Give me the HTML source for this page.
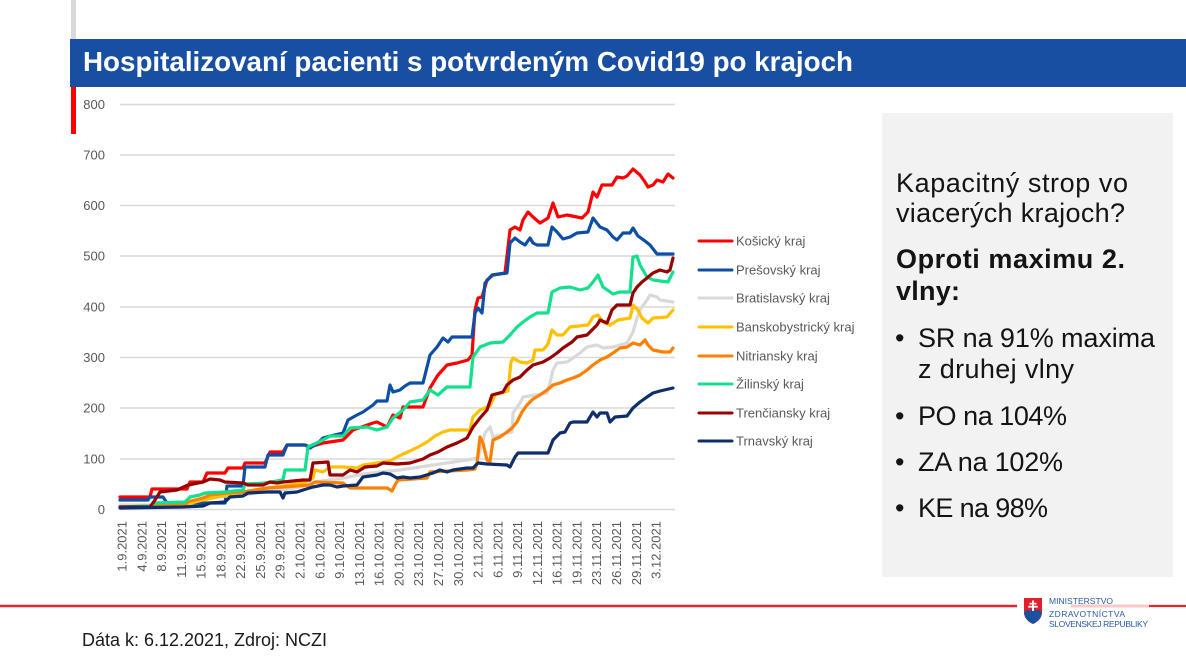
<!DOCTYPE html>
<html><head><meta charset="utf-8"><style>
html,body{margin:0;padding:0;background:#fff;}
svg{display:block;}
</style></head><body>
<svg width="1186" height="661" viewBox="0 0 1186 661" xmlns="http://www.w3.org/2000/svg" font-family="'Liberation Sans', sans-serif">
<rect width="1186" height="661" fill="#fff"/>
<rect x="71" y="0" width="5" height="39" fill="#d9d9d9"/>
<rect x="70" y="39" width="1116" height="48" fill="#184fa3"/>
<text x="83" y="71" font-size="28" font-weight="bold" fill="#fff" textLength="770" lengthAdjust="spacingAndGlyphs">Hospitalizovaní pacienti s potvrdeným Covid19 po krajoch</text>
<rect x="71" y="87" width="5" height="47" fill="#ff0000"/>

<g stroke="#d9d9d9" stroke-width="1.5">
<line x1="120" y1="104.5" x2="675" y2="104.5"/>
<line x1="120" y1="155" x2="675" y2="155"/>
<line x1="120" y1="205.5" x2="675" y2="205.5"/>
<line x1="120" y1="256" x2="675" y2="256"/>
<line x1="120" y1="307" x2="675" y2="307"/>
<line x1="120" y1="357.5" x2="675" y2="357.5"/>
<line x1="120" y1="408" x2="675" y2="408"/>
<line x1="120" y1="459" x2="675" y2="459"/>
<line x1="120" y1="509.5" x2="675" y2="509.5"/>
</g>
<g font-size="13" fill="#595959" text-anchor="end">
<text x="105" y="109">800</text>
<text x="105" y="159.5">700</text>
<text x="105" y="210">600</text>
<text x="105" y="260.5">500</text>
<text x="105" y="311.5">400</text>
<text x="105" y="362">300</text>
<text x="105" y="412.5">200</text>
<text x="105" y="463.5">100</text>
<text x="105" y="514">0</text>
</g>

<g font-size="13" fill="#595959" text-anchor="end">
<text transform="translate(126.5,521) rotate(-90)">1.9.2021</text>
<text transform="translate(146.3,521) rotate(-90)">4.9.2021</text>
<text transform="translate(166.1,521) rotate(-90)">8.9.2021</text>
<text transform="translate(185.8,521) rotate(-90)">11.9.2021</text>
<text transform="translate(205.6,521) rotate(-90)">15.9.2021</text>
<text transform="translate(225.4,521) rotate(-90)">18.9.2021</text>
<text transform="translate(245.2,521) rotate(-90)">22.9.2021</text>
<text transform="translate(265,521) rotate(-90)">25.9.2021</text>
<text transform="translate(284.7,521) rotate(-90)">29.9.2021</text>
<text transform="translate(304.5,521) rotate(-90)">2.10.2021</text>
<text transform="translate(324.3,521) rotate(-90)">6.10.2021</text>
<text transform="translate(344.1,521) rotate(-90)">9.10.2021</text>
<text transform="translate(363.9,521) rotate(-90)">13.10.2021</text>
<text transform="translate(383.6,521) rotate(-90)">16.10.2021</text>
<text transform="translate(403.4,521) rotate(-90)">20.10.2021</text>
<text transform="translate(423.2,521) rotate(-90)">23.10.2021</text>
<text transform="translate(443,521) rotate(-90)">27.10.2021</text>
<text transform="translate(462.8,521) rotate(-90)">30.10.2021</text>
<text transform="translate(482.5,521) rotate(-90)">2.11.2021</text>
<text transform="translate(502.3,521) rotate(-90)">6.11.2021</text>
<text transform="translate(522.1,521) rotate(-90)">9.11.2021</text>
<text transform="translate(541.9,521) rotate(-90)">12.11.2021</text>
<text transform="translate(561.7,521) rotate(-90)">16.11.2021</text>
<text transform="translate(581.4,521) rotate(-90)">19.11.2021</text>
<text transform="translate(601.2,521) rotate(-90)">23.11.2021</text>
<text transform="translate(621,521) rotate(-90)">26.11.2021</text>
<text transform="translate(640.8,521) rotate(-90)">29.11.2021</text>
<text transform="translate(660.6,521) rotate(-90)">3.12.2021</text>
</g>

<g fill="none" stroke-width="3.2" stroke-linejoin="round" stroke-linecap="round">
<polyline stroke="#ff0000" points="120,497 150,497 152,489 187,489 190,482 203,482 207,473 225,473 228,468 243,468 245,463 265,463 270,452 283,452 287,445 305,445 310,447 323,443 343,440 353,430 373,423 377,422 387,427 393,415 400,418 403,407 423,407 430,388 438,375 447,365 457,363 468,360 472,355 475,310 478,298 482,297 487,280 493,275 505,273 510,230 515,227 520,230 523,220 528,212 533,217 540,223 545,220 548,218 553,203 558,217 567,215 577,217 582,218 588,212 593,192 597,197 602,185 612,185 617,177 623,178 627,176 633,169 640,175 645,182 648,187 653,185 657,180 663,182 668,174 673,178"/>
<polyline stroke="#0d4ea6" points="120,500 148,500 150,497 163,497 167,503 225,503 227,486 243,486 245,467 265,467 268,455 283,455 287,445 305,445 310,448 318,443 323,438 330,436 343,433 348,420 357,415 363,412 373,405 377,401 387,401 390,385 393,392 400,390 405,386 410,383 423,383 430,355 437,347 443,338 448,342 452,337 472,337 475,313 478,308 482,313 485,283 492,275 507,273 510,243 515,238 520,242 525,245 530,238 533,243 537,245 548,245 552,227 557,232 563,239 570,237 577,233 588,232 593,218 600,227 607,230 613,237 617,240 623,233 630,233 633,228 638,236 645,241 650,245 657,254 673,254"/>
<polyline stroke="#d9d9d9" points="120,505 150,505 187,503 210,497 245,495 267,491 283,490 300,487 315,482 343,478 363,474 380,472 400,470 433,465 467,460 478,458 485,433 490,427 493,437 500,435 512,432 513,413 520,403 523,397 547,393 550,383 553,370 557,363 567,362 573,358 580,353 587,347 597,345 603,348 613,347 627,343 633,332 637,318 640,310 647,300 650,295 657,297 660,300 673,302"/>
<polyline stroke="#ffc000" points="120,508 180,506 203,500 227,495 243,492 267,488 283,486 303,483 313,478 315,470 323,472 330,467 343,467 357,468 363,465 377,463 390,461 397,457 403,454 410,451 420,446 427,442 435,436 443,432 450,430 470,430 473,417 480,410 490,406 495,395 508,391 511,362 513,358 520,362 527,363 533,360 535,350 543,350 548,344 552,330 557,335 563,335 570,327 588,325 593,317 598,315 603,322 610,325 618,320 630,318 633,305 638,310 642,318 648,323 653,318 667,317 673,310"/>
<polyline stroke="#ff8000" points="120,507 185,505 187,502 203,498 210,495 227,493 243,492 267,488 283,487 310,485 315,482 343,483 350,488 387,488 392,491 395,485 398,480 427,478 430,472 467,470 475,469 477,463 480,437 483,443 487,460 490,462 493,440 500,437 507,432 512,428 517,422 522,412 527,405 533,399 540,395 547,390 553,385 560,383 567,380 573,378 580,375 587,370 593,365 600,360 607,357 613,353 620,348 627,347 633,343 640,345 645,340 648,345 653,350 663,352 670,352 673,348"/>
<polyline stroke="#12e08c" points="120,507 150,506 155,503 185,502 190,497 200,495 205,493 225,492 243,490 245,484 265,483 283,480 285,470 305,470 308,447 323,440 330,436 343,436 350,428 367,427 377,430 387,427 393,418 403,410 410,402 423,400 430,390 438,395 447,387 470,387 473,357 480,347 490,343 503,342 510,335 517,327 523,322 530,317 537,313 548,313 552,292 560,288 570,287 580,290 588,288 593,282 598,275 603,287 613,294 620,292 630,292 633,257 637,256 640,265 647,277 653,280 668,282 673,272"/>
<polyline stroke="#990000" points="120,507 150,507 155,500 160,492 177,490 188,485 203,482 210,479 220,480 225,482 243,483 248,485 263,485 270,482 277,483 283,482 303,480 310,480 313,463 328,462 330,475 343,475 350,470 357,472 365,467 377,466 383,463 397,464 410,463 423,459 430,455 438,452 447,447 457,443 467,438 473,427 480,418 487,410 492,395 503,392 507,385 513,380 520,377 527,370 533,365 543,362 550,358 557,353 563,348 572,342 577,337 587,335 592,330 597,325 600,320 607,323 612,310 617,305 630,305 633,293 637,287 642,282 647,278 653,273 660,270 667,272 670,270 673,258"/>
<polyline stroke="#0f2f6b" points="120,508 183,507 203,506 210,503 225,502 230,497 243,496 248,493 267,492 280,492 283,498 285,493 297,492 303,490 313,487 323,485 330,485 337,487 343,486 357,485 363,477 377,475 383,473 390,474 397,478 403,477 410,478 420,477 433,473 440,470 447,472 453,470 467,468 473,468 478,463 487,464 507,465 510,467 515,457 518,453 548,453 553,440 560,433 565,432 570,423 573,422 587,422 593,412 597,417 600,413 607,413 610,422 615,417 627,416 633,408 640,402 647,397 653,393 660,391 673,388"/>
</g>

<g stroke-width="3" stroke-linecap="round">
<line x1="699" y1="241" x2="732" y2="241" stroke="#ff0000"/>
<line x1="699" y1="270" x2="732" y2="270" stroke="#0d4ea6"/>
<line x1="699" y1="298" x2="732" y2="298" stroke="#d9d9d9"/>
<line x1="699" y1="327" x2="732" y2="327" stroke="#ffc000"/>
<line x1="699" y1="356" x2="732" y2="356" stroke="#ff8000"/>
<line x1="699" y1="384" x2="732" y2="384" stroke="#12e08c"/>
<line x1="699" y1="413" x2="732" y2="413" stroke="#990000"/>
<line x1="699" y1="441" x2="732" y2="441" stroke="#0f2f6b"/>
</g>
<g font-size="13" fill="#595959">
<text x="736" y="245.5">Košický kraj</text>
<text x="736" y="274.5">Prešovský kraj</text>
<text x="736" y="302.5">Bratislavský kraj</text>
<text x="736" y="331.5">Banskobystrický kraj</text>
<text x="736" y="360.5">Nitriansky kraj</text>
<text x="736" y="388.5">Žilinský kraj</text>
<text x="736" y="417.5">Trenčiansky kraj</text>
<text x="736" y="445.5">Trnavský kraj</text>
</g>

<rect x="882" y="113" width="291" height="464" fill="#f2f2f2"/>
<g font-size="27" fill="#141414">
<text x="896" y="192" textLength="232">Kapacitný strop vo</text>
<text x="896" y="222" textLength="229">viacerých krajoch?</text>
<text x="896" y="268" font-weight="bold" textLength="229">Oproti maximu 2.</text>
<text x="896" y="300" font-weight="bold" textLength="64">vlny:</text>
<text x="895" y="347">•</text>
<text x="918" y="347" textLength="237">SR na 91% maxima</text>
<text x="918" y="378" textLength="156">z druhej vlny</text>
<text x="895" y="425">•</text>
<text x="918" y="425" textLength="149">PO na 104%</text>
<text x="895" y="471">•</text>
<text x="918" y="471" textLength="145">ZA na 102%</text>
<text x="895" y="517">•</text>
<text x="918" y="517" textLength="130">KE na 98%</text>
</g>

<line x1="0" y1="606" x2="1017" y2="606" stroke="#f7c9c9" stroke-width="4"/>
<line x1="0" y1="606" x2="1017" y2="606" stroke="#e3262d" stroke-width="2"/>
<line x1="1071" y1="606" x2="1186" y2="606" stroke="#f7c9c9" stroke-width="3"/>
<line x1="1149" y1="606" x2="1186" y2="606" stroke="#e3262d" stroke-width="2"/>

<path d="M1024,598 H1042 V612 Q1042,620 1033,624 Q1024,620 1024,612 Z" fill="#e3202a"/>
<path d="M1024,613 Q1027,608 1030,611 Q1033,606 1036,611 Q1039,608 1042,613 Q1041,620 1033,624 Q1025,620 1024,613 Z" fill="#1c4fa0"/>
<rect x="1032" y="600.5" width="2" height="10.5" fill="#fff"/>
<rect x="1029.5" y="602.8" width="7" height="1.6" fill="#fff"/>
<rect x="1028.3" y="605.8" width="9.4" height="1.8" fill="#fff"/>
<g font-size="8.5" fill="#2b5aa6">
<text x="1049" y="604" textLength="64">MINISTERSTVO</text>
<text x="1049" y="617" textLength="76">ZDRAVOTNÍCTVA</text>
<text x="1049" y="627" textLength="99">SLOVENSKEJ REPUBLIKY</text>
</g>

<text x="82" y="646" font-size="18" fill="#1a1a1a" textLength="245">Dáta k: 6.12.2021, Zdroj: NCZI</text>
</svg>
</body></html>
